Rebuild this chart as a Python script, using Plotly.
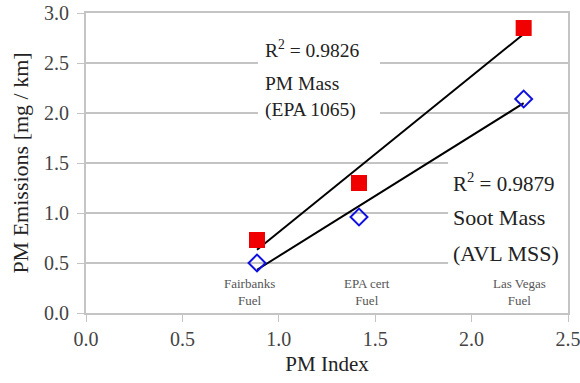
import numpy as np
import plotly.graph_objects as go

# ---- data ----
pm_index = [0.887, 1.416, 2.27]
pm_mass = [0.73, 1.30, 2.85]       # EPA 1065 (red squares)
soot_mass = [0.50, 0.96, 2.14]     # AVL MSS (blue diamonds)
fuel_labels = ["Fairbanks<br>Fuel", "EPA cert<br>Fuel", "Las Vegas<br>Fuel"]
fuel_label_x = [0.85, 1.457, 2.25]
r2_pm = "0.9826"
r2_soot = "0.9879"
x_ticks = [0.0, 0.5, 1.0, 1.5, 2.0, 2.5]
y_ticks = [0.0, 0.5, 1.0, 1.5, 2.0, 2.5, 3.0]

FONT = "Liberation Serif, Times New Roman, serif"
GRID = "#c4c4c4"

x = np.array(pm_index)
fig = go.Figure()

# linear fits
for ys in (pm_mass, soot_mass):
    m, b = np.polyfit(x, np.array(ys), 1)
    xs = np.array([x.min(), x.max()])
    fig.add_trace(go.Scatter(x=xs, y=m * xs + b, mode="lines",
                             line=dict(color="black", width=2),
                             showlegend=False, hoverinfo="skip"))

fig.add_trace(go.Scatter(x=pm_index, y=pm_mass, mode="markers",
                         marker=dict(symbol="square", size=16, color="#f00000",
                                     line=dict(width=0)),
                         showlegend=False))
fig.add_trace(go.Scatter(x=pm_index, y=soot_mass, mode="markers",
                         marker=dict(symbol="diamond-open", size=13, color="#1010e0",
                                     line=dict(width=2, color="#1010e0")),
                         showlegend=False))

# white boxes behind text blocks
fig.add_shape(type="rect", xref="x", yref="y", x0=0.892, x1=1.525, y0=1.9, y1=2.8,
              fillcolor="white", line=dict(width=0), layer="above")
fig.add_shape(type="rect", xref="x", yref="y", x0=1.878, x1=2.53, y0=0.47, y1=1.6,
              fillcolor="white", line=dict(width=0), layer="above")

ann = []
def txt(xv, yv, t, size=21, color="#222", xanchor="left"):
    ann.append(dict(x=xv, y=yv, xref="x", yref="y", text=t, showarrow=False,
                    xanchor=xanchor, yanchor="middle",
                    font=dict(family=FONT, size=size, color=color)))

txt(0.92, 2.64, "R<sup>2</sup> = " + r2_pm, size=19.5)
txt(0.92, 2.30, "PM Mass", size=19.5)
txt(0.92, 2.03, "(EPA 1065)", size=19.5)
txt(1.895, 1.31, "R<sup>2</sup> = " + r2_soot, size=21)
txt(1.895, 0.96, "Soot Mass", size=22)
txt(1.895, 0.60, "(AVL MSS)", size=22)
for fx, fl in zip(fuel_label_x, fuel_labels):
    ann.append(dict(x=fx, y=0.21, xref="x", yref="y", text=fl, showarrow=False,
                    xanchor="center", yanchor="middle",
                    font=dict(family=FONT, size=13, color="#555")))

fig.update_layout(
    width=580, height=383,
    margin=dict(l=86, r=12, t=13, b=70, autoexpand=False),
    paper_bgcolor="white", plot_bgcolor="white",
    font=dict(family=FONT, size=20, color="#333"),
    annotations=ann,
    showlegend=False,
)
fig.update_xaxes(range=[0, 2.5], tickvals=x_ticks, tickformat=".1f",
                 showgrid=False, zeroline=False, automargin=False,
                 ticklabeloverflow="allow",
                 showline=True, linecolor=GRID, linewidth=2, mirror=True,
                 ticks="outside", ticklen=7, tickcolor=GRID, tickwidth=1,
                 tickfont=dict(size=20, color="#444"),
                 title=dict(text="PM Index", font=dict(size=21, color="#222"), standoff=7))
fig.update_yaxes(range=[0, 3.0], tickvals=y_ticks, tickformat=".1f",
                 showgrid=True, gridcolor=GRID, gridwidth=2, zeroline=False, automargin=False,
                 ticklabeloverflow="allow",
                 showline=True, linecolor=GRID, linewidth=2, mirror=True,
                 ticks="outside", ticklen=7, tickcolor=GRID, tickwidth=1,
                 ticklabelstandoff=4,
                 tickfont=dict(size=20, color="#444"),
                 title=dict(text="PM Emissions [mg / km]", font=dict(size=22, color="#222"),
                            standoff=9))

# remove the browser's default 8px page margin so the chart fills the window exactly
fig.write_html("out.html", config={"displayModeBar": False},
               post_script="document.body.style.margin='0px';")
